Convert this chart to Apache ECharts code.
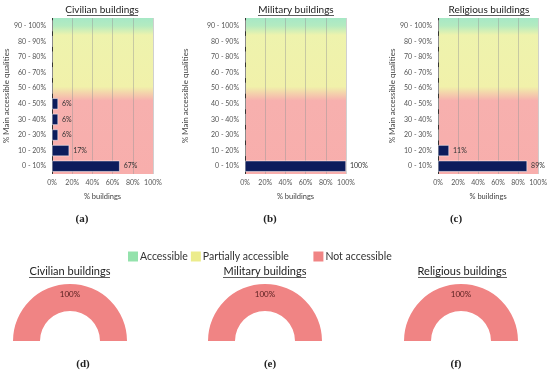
<!DOCTYPE html>
<html><head><meta charset="utf-8">
<script src="https://cdn.jsdelivr.net/npm/echarts@6/dist/echarts.min.js"></script>
<style>html,body{margin:0;padding:0;background:#fff}#c{width:550px;height:371px}</style>
</head><body><div id="c"></div>
<script>
const categories = ['0 - 10%','10 - 20%','20 - 30%','30 - 40%','40 - 50%','50 - 60%','60 - 70%','70 - 80%','80 - 90%','90 - 100%'];
const civilian = [67,17,6,6,6,0,0,0,0,0];
const military = [100,0,0,0,0,0,0,0,0,0];
const religious = [89,11,0,0,0,0,0,0,0,0];
const xTicks = [0,20,40,60,80,100];
const panelTitles = ['Civilian buildings','Military buildings','Religious buildings'];
const accessNames = ['Accessible','Partially accessible','Not accessible'];
const civilianAccess = [0,0,100];
const militaryAccess = [0,0,100];
const religiousAccess = [0,0,100];
const panelLetters = ['(a)','(b)','(c)','(d)','(e)','(f)'];

const FONT = 'Lato';
const chart = echarts.init(document.getElementById('c'));
const bg = new echarts.graphic.LinearGradient(0,0,0,1,[
  {offset:0,color:'#a6e8c6'},{offset:0.05,color:'#b4ebc0'},{offset:0.11,color:'#eef3ad'},
  {offset:0.44,color:'#f1f1aa'},{offset:0.53,color:'#f7b0ae'},{offset:1,color:'#f8aeac'}]);
const grids = [
  {left:52,right:397,top:18,bottom:197},
  {left:245,right:204,top:18,bottom:197},
  {left:438,right:10,top:18,bottom:197}
].map(g=>Object.assign(g,{show:true,backgroundColor:bg,borderWidth:0}));
const nameGaps = [42,56,41];
const xAxes = grids.map((g,i)=>({
  gridIndex:i,type:'value',min:0,max:100,interval:20,
  axisLabel:{formatter:v=>xTicks.includes(v)?v+'%':'',fontSize:7,color:'#555',fontFamily:FONT,margin:5},
  axisLine:{show:false},axisTick:{show:false},
  splitLine:{show:true,lineStyle:{color:['#333333','rgba(150,150,150,0.45)','rgba(150,150,150,0.45)','rgba(150,150,150,0.45)','rgba(150,150,150,0.45)','rgba(150,150,150,0.45)'],width:1}},
  name:'% buildings',nameLocation:'middle',nameGap:19,
  nameTextStyle:{fontSize:7.5,color:'#444',fontFamily:FONT}
}));
const yAxes = grids.map((g,i)=>({
  gridIndex:i,type:'category',data:categories,
  axisLabel:{fontSize:7,color:'#555',fontFamily:FONT,margin:6},
  axisLine:{show:false},axisTick:{show:false},
  name:'% Main accessible qualities',nameLocation:'middle',nameGap:nameGaps[i],nameRotate:90,
  nameTextStyle:{fontSize:8,color:'#444',fontFamily:FONT}
}));
const barData = [civilian,military,religious];
const series = barData.map((d,i)=>({
  type:'bar',xAxisIndex:i,yAxisIndex:i,data:d,barWidth:11,
  itemStyle:{color:'#0c1c5c',borderColor:'#ffffff',borderWidth:0.5},
  label:{show:true,position:'right',distance:4,fontSize:7,color:'#333',fontFamily:FONT,
    formatter:p=>p.value?p.value+'%':''},
  silent:true
}));
const pieCenters = [[70,341],[265,341],[461,341]];
const accessColors = ['#94e2ac','#ecec8c','#f08484'];
[civilianAccess,militaryAccess,religiousAccess].forEach((vals,i)=>{
  series.push({
    type:'pie',name:panelTitles[i],center:pieCenters[i],radius:[30,57],
    startAngle:180,endAngle:0,silent:true,
    data:vals.map((v,k)=>({name:accessNames[k],value:v,itemStyle:{color:accessColors[k]}})),
    label:{show:true,position:'inside',fontSize:8,color:'#5a2020',fontFamily:FONT,
      formatter:p=>p.value?p.value+'%':''},
    labelLine:{show:false}
  });
});
const graphic = [];
const topTitleX = [102,296,489];
const botTitleX = [70,265,462];
function txt(s,x,y,size,weight,family){
  return {type:'text',x:x,y:y,silent:true,
    style:{text:s,align:'center',verticalAlign:'middle',fontSize:size,fontWeight:weight,fontFamily:family,fill:'#222'}};
}
panelTitles.forEach((t,i)=>{
  graphic.push(txt(t,topTitleX[i],9.5,10,'normal',FONT));
  graphic.push(txt(t,botTitleX[i],271.5,11,'normal',FONT));
});
const letterPos = [[82,219],[270,219],[456,219],[83,364],[270,364],[456,364]];
panelLetters.forEach((l,i)=>graphic.push(txt(l,letterPos[i][0],letterPos[i][1],11,'bold','Liberation Serif')));
const underlines = [[67,138,15.5],[258,334,15.5],[449,530,15.5],[29,110,277.5],[223,306,277.5],[418,507,277.5]];
underlines.forEach(u=>graphic.push({type:'line',shape:{x1:u[0],y1:u[2],x2:u[1],y2:u[2]},style:{stroke:'#333',lineWidth:0.8},silent:true}));
chart.setOption({
  animation:false,
  grid:grids,xAxis:xAxes,yAxis:yAxes,series:series,graphic:graphic,
  legend:{data:accessNames,left:123,top:246,itemWidth:10,itemHeight:10,itemGap:3,icon:'rect',
    formatter:n=>n==='Partially accessible'?n+'        ':n,
    textStyle:{fontSize:10.5,color:'#333',fontFamily:FONT,padding:[0,0,0,-3]},selectedMode:false}
});
</script></body></html>
